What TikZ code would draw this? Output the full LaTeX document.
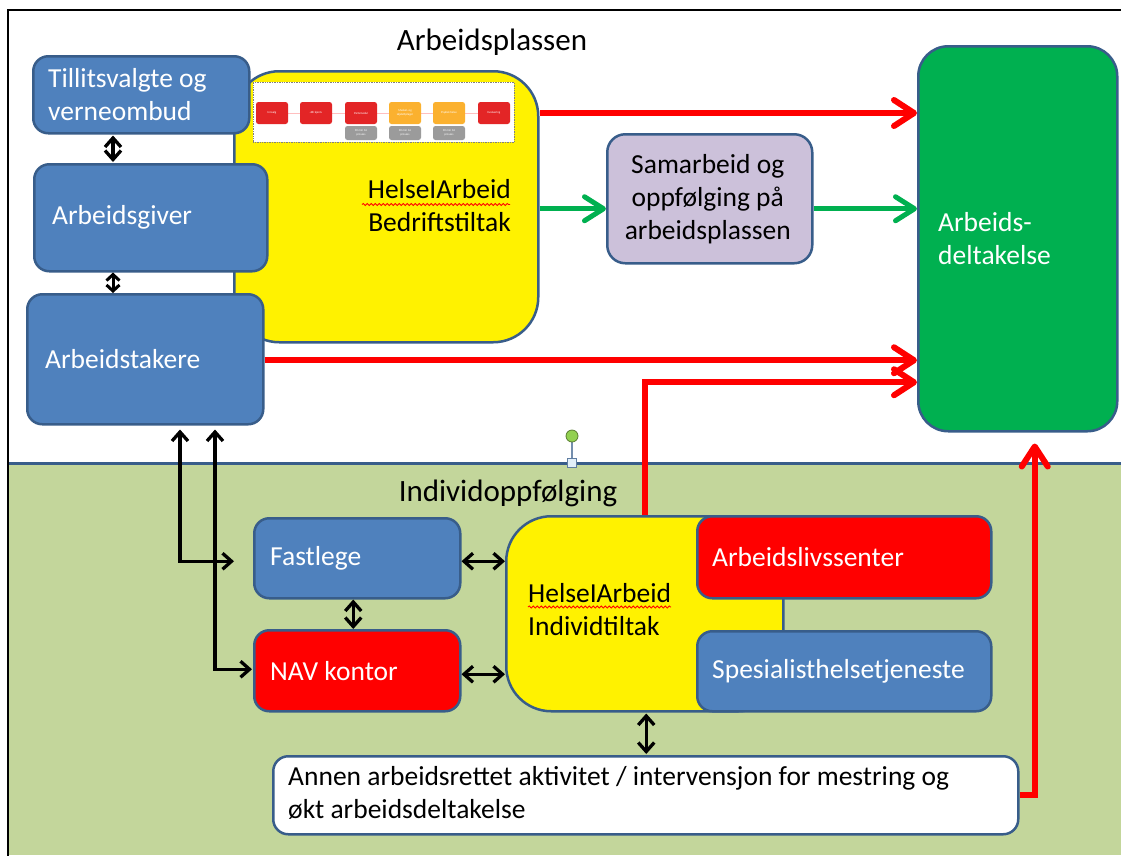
\documentclass[tikz,border=0pt]{standalone}
\usepackage{fontspec}
\setmainfont{Carlito}
\usetikzlibrary{arrows.meta,decorations.pathmorphing,calc}
\definecolor{bluefill}{HTML}{4F81BD}
\definecolor{blueline}{HTML}{385D8A}
\definecolor{lowgreen}{HTML}{C3D69B}
\definecolor{ppgreen}{HTML}{00B050}
\definecolor{lav}{HTML}{CCC1DA}
\definecolor{pptred}{HTML}{FF0000}
\definecolor{minired}{HTML}{E32526}
\definecolor{miniorange}{HTML}{FBB12F}
\definecolor{minigray}{HTML}{9B9B9B}
\definecolor{handlegreen}{HTML}{92D050}
\definecolor{handleblue}{HTML}{E2EFF9}
\newcommand\lblfont{\fontsize{27.5}{33}\selectfont}
\newcommand\ttlfont{\fontsize{31}{36}\selectfont}
\begin{document}
\begin{tikzpicture}[x=1pt,y=-1pt,
  basebox/.style={draw=blueline, line width=2.5pt, anchor=north west, inner sep=0pt},
  bluebox/.style={basebox, fill=bluefill, rounded corners=15pt},
  redbox/.style={basebox, fill=pptred, rounded corners=15pt},
  yellowbox/.style={basebox, fill=yellow, rounded corners=45pt},
  wtxt/.style={text=white, font=\lblfont, align=left, anchor=west, inner sep=0pt},
  btxt/.style={text=black, font=\lblfont, align=left, anchor=west, inner sep=0pt},
  ttl/.style={text=black, font=\ttlfont, inner sep=0pt},
  redarr/.style={draw=pptred, line width=6pt, -{Straight Barb[round,length=20pt,width=26pt]}},
  grnarr/.style={draw=ppgreen, line width=5pt, -{Straight Barb[round,length=19pt,width=24pt]}},
  blkdbl/.style={draw=black, line width=3.3pt, {Straight Barb[length=9pt,width=16pt]}-{Straight Barb[length=9pt,width=16pt]}},
  blkshort/.style={draw=black, line width=3pt, {Straight Barb[length=6pt,width=13pt]}-{Straight Barb[length=6pt,width=13pt]}},
  minibox/.style={fill=#1, rounded corners=2.5pt, minimum width=32pt, minimum height=22pt, inner sep=0pt, text=white, font=\fontsize{3}{3.6}\selectfont, align=center},
  squiggle/.style={draw=red, line width=0.8pt, decorate, decoration={snake, amplitude=1.1pt, segment length=4pt}}
]
\useasboundingbox (0,0) rectangle (1121,855);
% background
\fill[white] (0,0) rectangle (1121,855);
\fill[lowgreen] (9,463) rectangle (1121,855);
\draw[blueline, line width=3pt] (9,463) -- (1121,463);
\draw[black, line width=2.5pt] (8,856) -- (8,10) -- (1122,10);

% titles
\node[ttl] (t1) at (492,42) {Arbeidsplassen};
\node[ttl] (t2) at (508,493) {Individoppfølging};

% yellow company measure box
\node[yellowbox, minimum width=304pt, minimum height=271pt] (bedrift) at (233,70) {};
\node[btxt, anchor=east, align=right] (bedtxt) at (511,206) {HelseIArbeid\\Bedriftstiltak};
\draw[squiggle] (362,204.5) -- (510,204.5);

% embedded mini process picture
\node[draw=gray, densely dotted, line width=0.7pt, fill=white, anchor=north west, minimum width=261pt, minimum height=60pt, inner sep=0pt] (snap) at (253,82) {};
\draw[red!25, line width=1pt] (272,113) -- (494,113);
\node[minibox=minired] (m1) at (272,113) {Innsalg};
\node[minibox=minired] (m2) at (316,113) {«Bli kjent»};
\node[minibox=minired] (m3) at (361,113) {Partsmodul};
\node[minibox=miniorange] (m4) at (405,113) {Muskel- og\\skjelettplager};
\node[minibox=miniorange] (m5) at (449,113) {Psykisk helse};
\node[minibox=minired] (m6) at (494,113) {Evaluering};
\node[minibox=minigray, minimum height=14pt] (g3) at (361,133) {30 min 1A\\prosess};
\node[minibox=minigray, minimum height=14pt] (g4) at (405,133) {30 min 1A\\prosess};
\node[minibox=minigray, minimum height=14pt] (g5) at (449,133) {30 min 1A\\prosess};

% left blue boxes
\node[bluebox, minimum width=216pt, minimum height=77pt] (till) at (32,55) {};
\node[wtxt] (tilltxt) at ([xshift=16pt]till.west) {Tillitsvalgte og\\verneombud};
\node[bluebox, minimum width=233pt, minimum height=107pt] (giver) at (33,163) {};
\node[wtxt] (givertxt) at ([xshift=19pt]giver.west) {Arbeidsgiver};
\node[bluebox, minimum width=236pt, minimum height=130pt] (taker) at (26,293) {};
\node[wtxt] (takertxt) at ([xshift=19pt]taker.west) {Arbeidstakere};

% cooperation box
\node[basebox, fill=lav, rounded corners=18pt, minimum width=205pt, minimum height=129pt] (samarb) at (606,133) {};
\node[btxt, anchor=center, align=center] (samtxt) at ([xshift=-2pt]samarb.center) {Samarbeid og\\oppfølging på\\arbeidsplassen};

% work participation
\node[basebox, fill=ppgreen, rounded corners=30pt, minimum width=199pt, minimum height=385pt] (deltak) at (917,45) {};
\node[wtxt] (deltxt) at ([xshift=21pt]deltak.west) {Arbeids-\\deltakelse};

% lower part
\node[bluebox, minimum width=206pt, minimum height=80pt] (fast) at (253,517) {};
\node[wtxt] (fasttxt) at ([xshift=17pt]fast.west) {Fastlege};
\node[redbox, minimum width=206pt, minimum height=81pt] (nav) at (253,629) {};
\node[wtxt] (navtxt) at ([xshift=17pt]nav.west) {NAV kontor};

\node[yellowbox, minimum width=277pt, minimum height=195pt] (indiv) at (505,515) {};
\node[btxt] (indtxt) at (528,610) {HelseIArbeid\\Individtiltak};
\draw[squiggle] (528,607) -- (671,607);

\node[redbox, minimum width=294pt, minimum height=82pt] (senter) at (696,515) {};
\node[wtxt] (sentxt) at ([xshift=16pt]senter.west) {Arbeidslivssenter};
\node[bluebox, minimum width=294pt, minimum height=80pt] (spes) at (696,630) {};
\node[wtxt] (spestxt) at ([xshift=16pt]spes.west) {Spesialisthelsetjeneste};

\node[basebox, fill=white, rounded corners=15pt, minimum width=745pt, minimum height=78pt] (annen) at (272,755) {};
\node[btxt] (annentxt) at ([xshift=16pt,yshift=2pt]annen.west) {Annen arbeidsrettet aktivitet / intervensjon for mestring og\\økt arbeidsdeltakelse};

% selection handle
\draw[blueline!70, line width=1.3pt] (572,436) -- (572,463);
\filldraw[fill=handlegreen, draw=handlegreen!60!black, line width=0.8pt] (572,436) circle (6pt);
\filldraw[fill=handleblue, draw=blueline!80, line width=0.8pt] (567.5,458.5) rectangle (576.5,467.5);

% connectors: top
\draw[redarr] ($(bedrift.north east)+(0,43)$) coordinate (r1) -- (r1 -| deltak.west);
\draw[grnarr] ($(samarb.west)+(0,10)$) coordinate (g1) (bedrift.east |- g1) -- (g1);
\draw[grnarr] (samarb.east |- g1) -- (g1 -| deltak.west);
\draw[redarr] ($(taker.east)+(0,1)$) coordinate (r2) -- (r2 -| deltak.west);
\draw[redarr] (indiv.north) |- ($(r2 -| deltak.west)+(0,22)$);
\draw[redarr] (annen.east) -| ($(deltak.south)+(17,11)$);

% connectors: black
\draw[blkdbl] ($(till.south west)+(81,1)$) -- ($(giver.north west)+(80,-1)$);
\draw[blkshort] ($(giver.south west)+(80,0)$) -- ($(taker.north west)+(87,0)$);
\draw[blkdbl] ($(taker.south west)+(154,4)$) |- ($(fast.west)+(-19,3)$);
\draw[blkdbl] ($(taker.south west)+(189,4)$) |- ($(nav.west)+(-1,-1.5)$);
\draw[blkdbl] ($(fast.south)+(-4,0)$) -- ($(nav.north)+(-4,0)$);
\draw[blkdbl] ($(fast.east)+(0,3)$) coordinate (b1) -- (b1 -| indiv.west);
\draw[blkdbl] ($(nav.east)+(0,3.5)$) coordinate (b2) -- (b2 -| indiv.west);
\draw[blkdbl] ($(indiv.south)+(1.5,1)$) -- ($(indiv.south |- annen.north)+(1.5,-1)$);
\end{tikzpicture}
\end{document}
